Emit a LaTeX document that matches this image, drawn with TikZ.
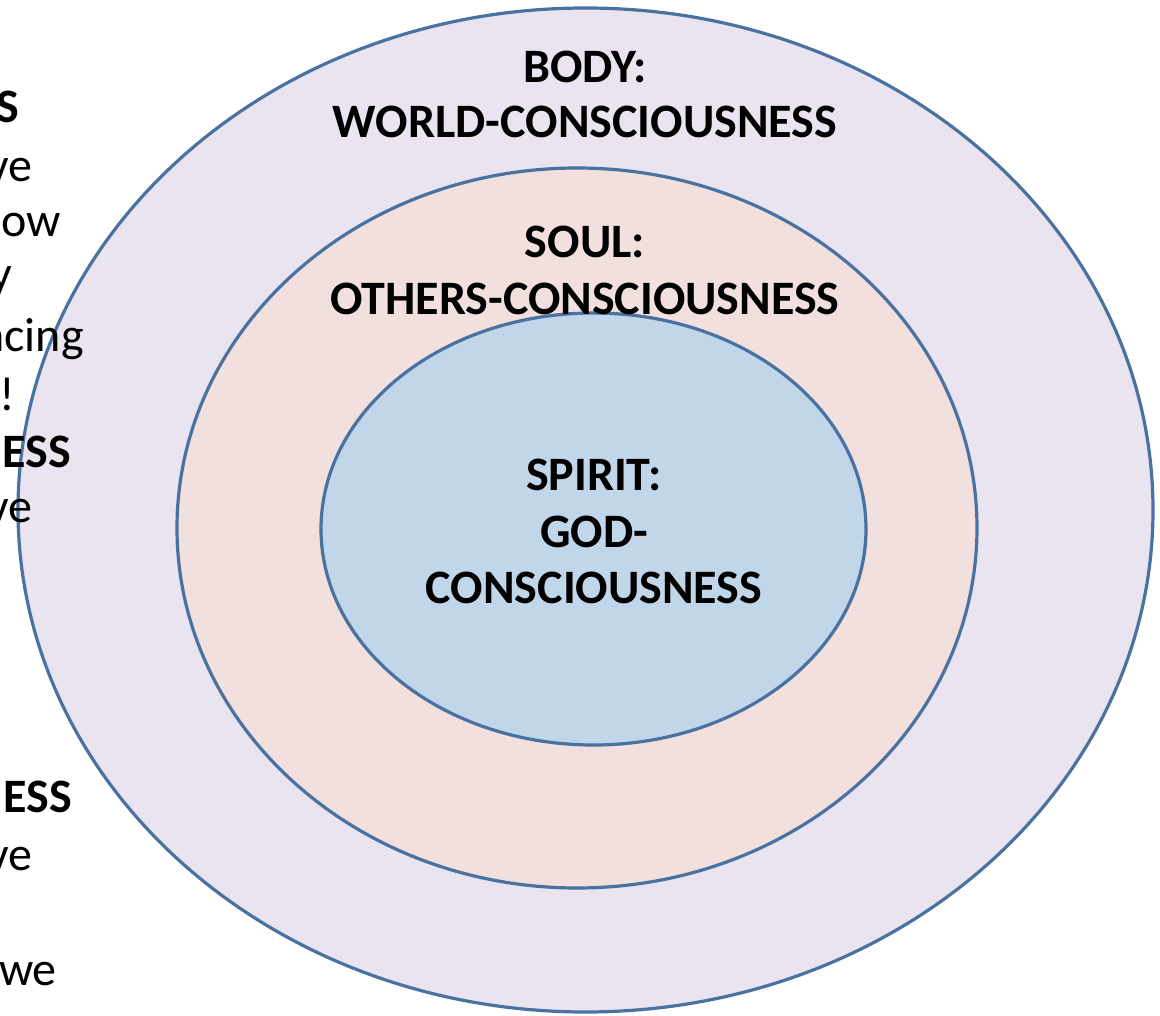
\documentclass[tikz,border=0pt]{standalone}
\usepackage{fontspec}
\setmainfont{Carlito}
\definecolor{ringline}{RGB}{74,114,160}
\definecolor{bodyfill}{RGB}{233,228,240}
\definecolor{soulfill}{RGB}{242,224,222}
\definecolor{spiritfill}{RGB}{194,214,234}
\tikzset{
	rings/.style={
			x=1pt, y=-1pt,
			ring/.style={draw=ringline, line width=3.2pt},
			title/.style={anchor=base, inner sep=0pt, font=\fontsize{48}{56}\selectfont\bfseries},
			cut/.style={anchor=base east, inner sep=0pt, font=\fontsize{48}{56}\selectfont},
			cutb/.style={cut, font=\fontsize{48}{56}\selectfont\bfseries},
		}
}
\begin{document}
\begin{tikzpicture}[rings]
		\useasboundingbox (0,0) rectangle (1160,1016);
		\clip (0,0) rectangle (1160,1016);
		% the three rings
		\draw[ring, fill=bodyfill] (585.5,510) ellipse [x radius=567.5, y radius=502];
		\draw[ring, fill=soulfill] (577,528) ellipse [x radius=400, y radius=360];
		\draw[ring, fill=spiritfill] (593.5,529) ellipse [x radius=272.5, y radius=216];
		% ring titles
		\node[title] (body) at (585,83) {BODY:};
		\node[title] (world) at (585,138) {WORLD-CONSCIOUSNESS};
		\node[title] (soul) at (585,258) {SOUL:};
		\node[title] (others) at (585,315) {OTHERS-CONSCIOUSNESS};
		\node[title] (spirit) at (594,490) {SPIRIT:};
		\node[title] (god) at (594,547) {GOD-};
		\node[title] (godc) at (594,603) {CONSCIOUSNESS};
		% text cut off at the left edge
		\node[cutb] (t1) at (19,123) {S};
		\node[cut] (t2) at (33,182) {ve};
		\node[cut] (t3) at (61,237) {ow};
		\node[cut] (t4) at (12,290) {y};
		\node[cut] (t5) at (84,352) {ncing};
		\node[cut] (t6) at (15,410) {!};
		\node[cutb] (t7) at (71,467) {ESS};
		\node[cut] (t8) at (33,522) {ve};
		\node[cutb] (t9) at (72,812) {ESS};
		\node[cut] (t10) at (33,870) {ve};
		\node[cut] (t11) at (57,985) {we};
	\end{tikzpicture}
\end{document}
